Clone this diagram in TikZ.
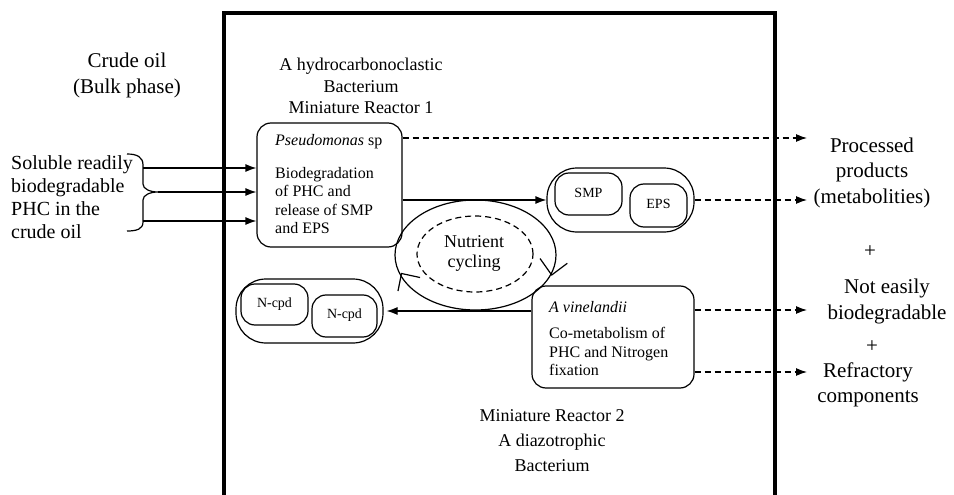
\documentclass[tikz,border=0pt]{standalone}
\usepackage{fontspec}
\setmainfont{Liberation Serif}
\usetikzlibrary{arrows.meta,shapes.geometric}
\begin{document}
\begin{tikzpicture}[x=1pt,y=-1pt,
  txt/.style={inner sep=0pt,align=center},
  big/.style={txt,font=\fontsize{21}{25.5}\selectfont},
  mid/.style={txt,font=\fontsize{18}{21.5}\selectfont},
  bodyt/.style={inner sep=0pt,align=left,font=\fontsize{16}{18.5}\selectfont},
  tinyt/.style={txt,font=\fontsize{14}{16}\selectfont},
  rbox/.style={draw,line width=1.2pt,rounded corners=14pt,inner sep=0pt},
  capsule/.style={draw,line width=1.2pt,rounded corners=30pt,inner sep=0pt},
  arr/.style={line width=1.2pt,-{Latex[length=11pt,width=8pt]}},
  darr/.style={line width=1.2pt,dash pattern=on 6pt off 4pt,-{Latex[length=11pt,width=8pt]}}
]
\useasboundingbox (0,0) rectangle (954,495);

% big reactor frame
\draw[line width=4pt] (224,495) -- (224,13) -- (775,13) -- (775,495);

% left texts
\node[big] (crude) at (127,75.5) {Crude oil\\(Bulk phase)};
\node[inner sep=0pt,align=left,font=\fontsize{20}{23}\selectfont,anchor=west] (soluble) at (11,197.5)
  {Soluble readily\\biodegradable\\PHC in the\\crude oil};

% top title
\node[mid] (title1) at (361,86) {A hydrocarbonoclastic\\Bacterium\\Miniature Reactor 1};
% bottom title
\node[mid,font=\fontsize{18}{25}\selectfont] (title2) at (552,441) {Miniature Reactor 2\\A diazotrophic\\Bacterium};

% brace
\draw[line width=1.2pt] (127,154) .. controls (137,154) and (143,157) .. (143,165)
  -- (143,184) .. controls (143,189) and (150,192) .. (158,192)
  .. controls (150,192) and (143,195) .. (143,200)
  -- (143,222) .. controls (143,229) and (137,231) .. (127,231);
\coordinate (bt) at (143,168);
\coordinate (bm) at (158,192);
\coordinate (bb) at (143,221);

% Pseudomonas box
\node[rbox,minimum width=145pt,minimum height=124pt] (pseudo) at (329.5,185) {};
\node[inner sep=0pt,anchor=west,font=\fontsize{16}{18.5}\selectfont] (pseudot) at (275,142) {\textit{Pseudomonas} sp};
\node[bodyt,anchor=west] (pseudob) at (275,200.5) {Biodegradation\\of PHC and\\release of SMP\\and EPS};

\draw[arr] (bt) -- (pseudo.west |- bt);
\draw[arr] (bm) -- (pseudo.west |- bm);
\draw[arr] (bb) -- (pseudo.west |- bb);

% nutrient cycling ellipse
\node[draw,ellipse,line width=1.2pt,inner sep=0pt,minimum width=161pt,minimum height=110pt] (cyc) at (475.5,255) {};
\node[draw,ellipse,line width=1.2pt,dash pattern=on 6pt off 4pt,inner sep=0pt,minimum width=116pt,minimum height=76pt] (cycin) at (475,254) {};
\node[mid,font=\fontsize{18}{20}\selectfont] (cyct) at (474,253) {Nutrient\\cycling};
\draw[line width=1.2pt] (540,258.5) -- (551.7,275) -- (567.3,263.3);
\draw[line width=1.2pt] (420,277.5) -- (401.5,273.5) -- (398,291);

% SMP / EPS capsule
\node[capsule,minimum width=147pt,minimum height=64pt] (caps1) at (620.5,200) {};
\node[rbox,minimum width=67pt,minimum height=42pt] (smp) at (588.5,194) {};
\node[tinyt] (smpt) at (588.5,193) {SMP};
\node[rbox,minimum width=57pt,minimum height=43pt] (eps) at (658.5,205.5) {};
\node[tinyt] (epst) at (658.5,204) {EPS};
\draw[arr] (pseudo.east |- caps1.west) -- (caps1.west);

% A vinelandii box
\node[rbox,minimum width=162pt,minimum height=102pt] (vin) at (613,337) {};
\node[inner sep=0pt,anchor=west,font=\fontsize{16}{18.5}\selectfont] (vint) at (549,307) {\textit{A vinelandii}};
\node[bodyt,anchor=west] (vinb) at (549,351.5) {Co-metabolism of\\PHC and Nitrogen\\fixation};

% N-cpd capsule
\node[capsule,minimum width=147pt,minimum height=64pt] (caps2) at (309.5,311) {};
\node[rbox,minimum width=67pt,minimum height=41pt] (ncpd1) at (274.5,304.5) {};
\node[tinyt] (ncpd1t) at (274.5,304) {N-cpd};
\node[rbox,minimum width=65pt,minimum height=42pt] (ncpd2) at (344.5,316) {};
\node[tinyt] (ncpd2t) at (344.5,315.5) {N-cpd};
\draw[arr] (vin.west |- caps2.east) -- ([xshift=3pt]caps2.east);

% outputs
\coordinate (out1) at (807,138);
\coordinate (out2) at (807,200);
\coordinate (out3) at (807,310);
\coordinate (out4) at (807,372);
\draw[darr] (pseudo.east |- out1) -- (out1);
\draw[darr] (caps1.east) -- (out2);
\draw[darr] (vin.east |- out3) -- (out3);
\draw[darr] (vin.east |- out4) -- (out4);

% right texts
\node[big] (proc) at (872,172.5) {Processed\\products\\(metabolities)};
\node[big] (plus1) at (870,252) {+};
\node[big] (noteasy) at (887,301.5) {Not easily\\biodegradable};
\node[big] (plus2) at (872,347) {+};
\node[big] (refr) at (868,385) {Refractory\\components};
\end{tikzpicture}
\end{document}
